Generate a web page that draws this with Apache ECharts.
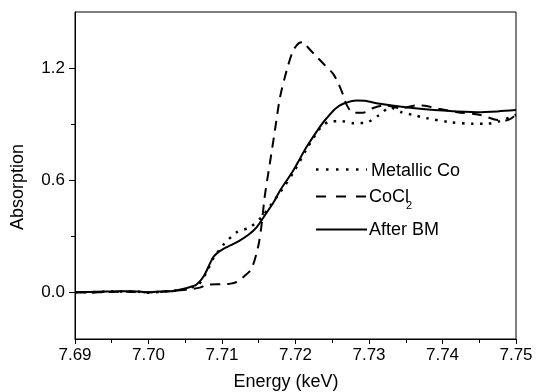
<!DOCTYPE html>
<html><head><meta charset="utf-8">
<script src="https://cdn.jsdelivr.net/npm/echarts@6/dist/echarts.min.js"></script>
<style>html,body{margin:0;padding:0;background:#fff}#c{width:536px;height:392px}</style>
</head><body><div id="c"></div>
<script>
// Axis ticks
const xTickLabels = ['7.69','7.70','7.71','7.72','7.73','7.74','7.75'];
const yMajorTicks = [0.0, 0.6, 1.2];
const yMinorTicks = [0.3, 0.9];

// Metallic Co (dotted)
const metalE = [7.690,7.692,7.694,7.696,7.698,7.700,7.702,7.704,7.705,7.706,7.7068,7.7078,7.7088,7.7095,7.7102,7.712,7.7138,7.7154,7.7165,7.718,7.7197,7.7215,7.7233,7.7245,7.7263,7.7279,7.7295,7.7313,7.7329,7.7344,7.7363,7.7378,7.741,7.7442,7.746,7.7478,7.750];
const metalA = [0.000,0.001,0.003,0.004,0.005,-0.002,0.004,0.010,0.018,0.028,0.040,0.100,0.180,0.220,0.255,0.321,0.348,0.402,0.460,0.540,0.640,0.765,0.875,0.911,0.916,0.905,0.907,0.946,0.988,0.964,0.946,0.932,0.911,0.902,0.902,0.916,0.950];

// CoCl2 (dashed)
const coclE = [7.690,7.692,7.694,7.696,7.698,7.700,7.702,7.704,7.706,7.707,7.708,7.710,7.711,7.712,7.713,7.714,7.7149,7.7154,7.7158,7.7165,7.7172,7.7179,7.7188,7.7197,7.7205,7.7211,7.7217,7.7227,7.7240,7.7251,7.7258,7.7265,7.727,7.7278,7.7292,7.7305,7.732,7.7344,7.7365,7.7376,7.7395,7.742,7.745,7.7475,7.7487,7.750];
const coclA = [0.000,-0.002,0.001,0.003,0.002,0.000,0.003,0.010,0.018,0.025,0.040,0.043,0.045,0.055,0.085,0.125,0.241,0.366,0.509,0.688,0.866,1.044,1.187,1.295,1.335,1.339,1.310,1.268,1.215,1.170,1.120,1.054,1.000,0.962,0.961,0.985,1.000,0.985,1.000,0.998,0.982,0.964,0.950,0.922,0.920,0.950];

// After BM (solid)
const bmE = [7.690,7.692,7.694,7.696,7.698,7.700,7.702,7.703,7.704,7.705,7.706,7.7065,7.7075,7.7088,7.7095,7.7102,7.7112,7.7124,7.7136,7.7147,7.7161,7.717,7.7179,7.7197,7.7215,7.7233,7.7242,7.7255,7.7265,7.7283,7.7295,7.731,7.7356,7.7401,7.7447,7.7475,7.750];
const bmA = [0.000,0.002,0.004,0.005,0.006,0.000,0.006,0.005,0.012,0.020,0.032,0.040,0.085,0.187,0.215,0.232,0.252,0.277,0.308,0.348,0.428,0.480,0.545,0.652,0.777,0.884,0.930,0.985,1.009,1.027,1.025,1.012,0.988,0.973,0.964,0.968,0.975];

const FONT = "'Liberation Sans', Arial, sans-serif";
const zip = (a, b) => a.map((v, i) => [v, b[i]]);

const chart = echarts.init(document.getElementById('c'), null, {renderer: 'canvas'});
const lineBase = {type: 'line', symbol: 'none', smooth: 0.3, silent: true, animation: false, z: 3};

chart.setOption({
  animation: false,
  backgroundColor: '#fff',
  grid: {left: 75, right: 20, top: 12, bottom: 53, containLabel: false, outerBoundsMode: 'none',
         show: true, borderColor: '#000', borderWidth: 1, backgroundColor: 'transparent'},
  xAxis: {
    type: 'value', min: 7.69, max: 7.75, interval: 0.01,
    axisLine: {show: true, onZero: false, lineStyle: {color: '#000', width: 1}},
    axisTick: {show: true, inside: false, length: 5, lineStyle: {color: '#000'}},
    minorTick: {show: true, splitNumber: 2, length: 4, lineStyle: {color: '#000'}},
    splitLine: {show: false},
    axisLabel: {show: true, margin: 8, color: '#000', fontFamily: FONT, fontSize: 17,
      formatter: v => { const s = v.toFixed(2); return xTickLabels.includes(s) ? s : ''; }}
  },
  yAxis: [{
    type: 'value', min: -0.25, max: 1.5,
    axisLine: {show: true, onZero: false, lineStyle: {color: '#000', width: 1}},
    axisTick: {show: true, inside: false, length: 6, customValues: yMajorTicks, lineStyle: {color: '#000'}},
    splitLine: {show: false},
    axisLabel: {show: true, margin: 10, color: '#000', fontFamily: FONT, fontSize: 17,
      customValues: yMajorTicks, formatter: v => v.toFixed(1)}
  }, {
    type: 'value', min: -0.25, max: 1.5, position: 'left',
    axisLine: {show: false},
    axisTick: {show: true, inside: false, length: 4, customValues: yMinorTicks, lineStyle: {color: '#000'}},
    axisLabel: {show: false, customValues: yMinorTicks},
    splitLine: {show: false}
  }],
  series: [
    Object.assign({}, lineBase, {name: 'Metallic Co', data: zip(metalE, metalA),
      lineStyle: {color: '#000', width: 2.5, type: [2.5, 6.5], cap: 'butt'}}),
    Object.assign({}, lineBase, {name: 'CoCl2', data: zip(coclE, coclA),
      lineStyle: {color: '#000', width: 2, type: [10, 7], cap: 'butt'}}),
    Object.assign({}, lineBase, {name: 'After BM', data: zip(bmE, bmA),
      lineStyle: {color: '#000', width: 2, type: 'solid'}})
  ],
  graphic: [
    {type: 'text', x: 18, y: 187, rotation: Math.PI / 2,
     style: {text: 'Absorption', fill: '#000', font: '18px ' + FONT, align: 'center', verticalAlign: 'middle'}},
    {type: 'text', x: 286, y: 382,
     style: {text: 'Energy (keV)', fill: '#000', font: '18px ' + FONT, align: 'center', verticalAlign: 'middle'}},
    {type: 'line', shape: {x1: 316, y1: 169.5, x2: 367, y2: 169.5}, style: {stroke: '#000', lineWidth: 2.5, lineDash: [2.5, 7.5]}},
    {type: 'text', x: 371, y: 171, style: {text: 'Metallic Co', fill: '#000', font: '18px ' + FONT, align: 'left', verticalAlign: 'middle'}},
    {type: 'line', shape: {x1: 316, y1: 196.5, x2: 366, y2: 196.5}, style: {stroke: '#000', lineWidth: 2, lineDash: [10, 10]}},
    {type: 'text', x: 369, y: 197, style: {text: 'CoCl', fill: '#000', font: '18px ' + FONT, align: 'left', verticalAlign: 'middle'}},
    {type: 'text', x: 406, y: 206, style: {text: '2', fill: '#000', font: '11px ' + FONT, align: 'left', verticalAlign: 'middle'}},
    {type: 'line', shape: {x1: 316, y1: 229.5, x2: 367, y2: 229.5}, style: {stroke: '#000', lineWidth: 2}},
    {type: 'text', x: 369, y: 230, style: {text: 'After BM', fill: '#000', font: '18px ' + FONT, align: 'left', verticalAlign: 'middle'}}
  ]
});
</script>
</body></html>
